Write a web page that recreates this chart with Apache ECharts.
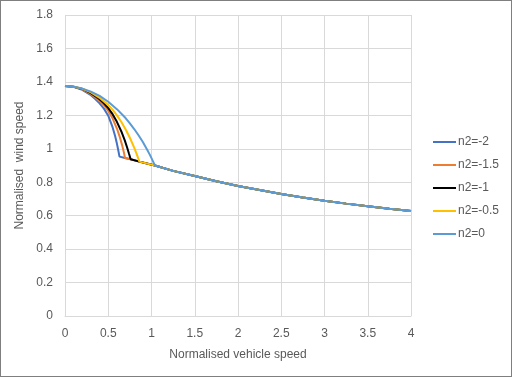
<!DOCTYPE html>
<html>
<head>
<meta charset="utf-8">
<script src="https://cdn.jsdelivr.net/npm/echarts@6/dist/echarts.min.js"></script>
<style>
  html, body { margin: 0; padding: 0; background: #fff; }
  #chart { width: 512px; height: 377px; box-sizing: border-box; border: 1px solid #7f7f7f; }
</style>
</head>
<body>
<div id="chart"></div>
<script>
// series names and colours
const seriesNames = ['n2=-2', 'n2=-1.5', 'n2=-1', 'n2=-0.5', 'n2=0']
const seriesColors = ['#4472c4', '#ed7d31', '#000000', '#ffc000', '#5b9bd5']

// steep part of each curve, up to its break point
const curveX = [
  [0, 0.1, 0.2, 0.3, 0.35, 0.4, 0.45, 0.5, 0.55, 0.58, 0.6, 0.61, 0.62, 0.63],
  [0, 0.1, 0.2, 0.3, 0.4, 0.45, 0.5, 0.55, 0.6, 0.63, 0.66, 0.68, 0.694],
  [0, 0.1, 0.2, 0.3, 0.4, 0.45, 0.5, 0.55, 0.6, 0.65, 0.69, 0.72, 0.74, 0.759],
  [0, 0.1, 0.2, 0.3, 0.4, 0.5, 0.55, 0.6, 0.65, 0.7, 0.75, 0.8, 0.83, 0.86],
  [0, 0.1, 0.2, 0.3, 0.4, 0.5, 0.6, 0.7, 0.75, 0.8, 0.85, 0.9, 0.95, 0.98, 1.0, 1.02, 1.04]
]
const curveY = [
  [1.375, 1.37, 1.352, 1.32, 1.298, 1.272, 1.24, 1.198, 1.129, 1.075, 1.031, 1.006, 0.98, 0.953],
  [1.375, 1.371, 1.356, 1.328, 1.285, 1.261, 1.226, 1.182, 1.121, 1.076, 1.022, 0.98, 0.945],
  [1.375, 1.371, 1.358, 1.333, 1.296, 1.272, 1.243, 1.207, 1.161, 1.105, 1.052, 1.005, 0.97, 0.937],
  [1.375, 1.371, 1.359, 1.337, 1.305, 1.261, 1.234, 1.2, 1.162, 1.117, 1.066, 1.007, 0.967, 0.923],
  [1.375, 1.371, 1.36, 1.342, 1.316, 1.281, 1.237, 1.184, 1.152, 1.118, 1.081, 1.04, 0.994, 0.965, 0.944, 0.922, 0.9]
]

// shared segment joining the break points
const breakX = [0.63, 0.694, 0.759, 0.86, 1.04]
const breakY = [0.953, 0.945, 0.937, 0.923, 0.9]

// common tail
const tailX = [1.25, 1.5, 1.75, 2, 2.25, 2.5, 2.75, 3, 3.25, 3.5, 3.75, 4]
const tailY = [0.868, 0.837, 0.806, 0.778, 0.753, 0.729, 0.708, 0.689, 0.672, 0.657, 0.642, 0.628]

const font = 'Liberation Sans, Arial, sans-serif'
const textColor = '#595959'
const gridColor = '#d9d9d9'

// each series: its own curve, then the rest of the break segment, then the tail
const seriesData = seriesNames.map((name, i) => {
  const pts = curveX[i].map((x, j) => [x, curveY[i][j]])
  for (let k = i + 1; k < breakX.length; k++) pts.push([breakX[k], breakY[k]])
  tailX.forEach((x, j) => pts.push([x, tailY[j]]))
  return pts
})

const chart = echarts.init(document.getElementById('chart'))
chart.setOption({
  animation: false,
  grid: { left: 64, right: 100, top: 14, bottom: 60 },
  xAxis: {
    type: 'value',
    min: 0,
    max: 4,
    interval: 0.5,
    name: 'Normalised vehicle speed',
    nameLocation: 'middle',
    nameGap: 33,
    nameTextStyle: { color: textColor, fontSize: 12, fontFamily: font },
    axisLine: { show: true, lineStyle: { color: gridColor } },
    axisTick: { show: false },
    axisLabel: { color: textColor, fontSize: 12, fontFamily: font, margin: 12 },
    splitLine: { show: true, lineStyle: { color: gridColor } }
  },
  yAxis: {
    type: 'value',
    min: 0,
    max: 1.8,
    interval: 0.2,
    name: 'Normalised  wind speed',
    nameLocation: 'middle',
    nameGap: 30,
    nameTextStyle: { color: textColor, fontSize: 12, fontFamily: font },
    axisLine: { show: false },
    axisTick: { show: false },
    axisLabel: { color: textColor, fontSize: 12, fontFamily: font, margin: 12 },
    splitLine: { show: true, lineStyle: { color: gridColor } }
  },
  legend: {
    orient: 'vertical',
    left: 432,
    top: 135,
    padding: 0,
    itemWidth: 23,
    itemHeight: 2,
    itemGap: 11,
    icon: 'rect',
    textStyle: { color: textColor, fontSize: 12, fontFamily: font, padding: [0, 0, 0, -3] },
    data: seriesNames
  },
  series: seriesNames.map((name, i) => ({
    name,
    type: 'line',
    data: seriesData[i],
    showSymbol: false,
    symbol: 'none',
    smooth: false,
    lineStyle: { width: 2, color: seriesColors[i] },
    itemStyle: { color: seriesColors[i] }
  }))
})
</script>
</body>
</html>
